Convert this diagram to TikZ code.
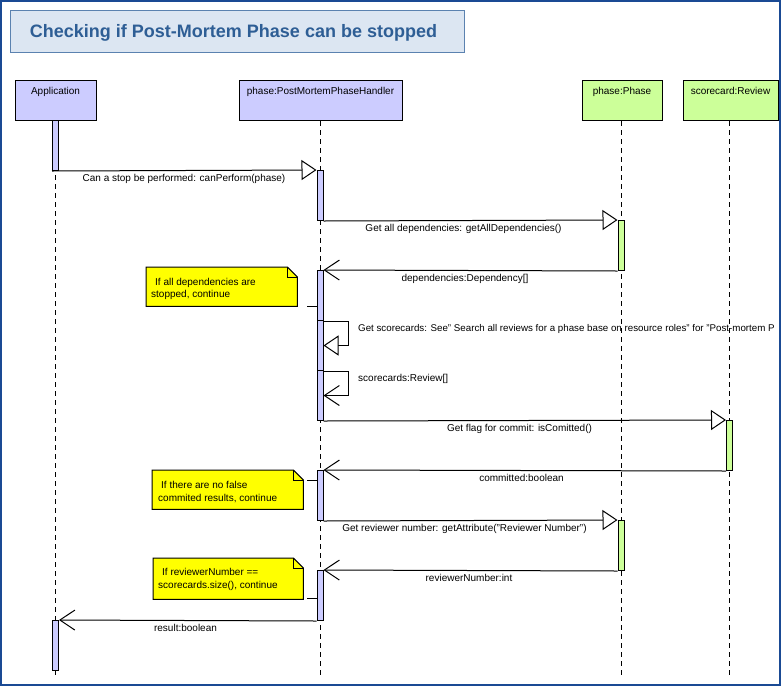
\documentclass[tikz,border=0pt]{standalone}
\usepackage{fontspec}
\setmainfont{Liberation Sans}
\usetikzlibrary{arrows.meta}
\definecolor{lil}{HTML}{CCCCFF}
\definecolor{grn}{HTML}{CCFF99}
\definecolor{framec}{HTML}{1A4A94}
\definecolor{ttlfill}{HTML}{DCE6F2}
\definecolor{ttlline}{HTML}{5B82B0}
\definecolor{ttltext}{HTML}{2E5E95}
\definecolor{notey}{HTML}{FFFF00}
\begin{document}
\begin{tikzpicture}[x=1pt,y=-1pt,
  head/.style={draw=black, line width=1pt, inner sep=0pt, anchor=north west, minimum height=40pt},
  headtxt/.style={font=\fontsize{10}{12}\selectfont, anchor=base, inner sep=0pt},
  bar/.style={draw=black, line width=1pt, minimum width=6pt, minimum height=50pt, inner sep=0pt, anchor=north},
  life/.style={draw=black, line width=1pt, dash pattern=on 5pt off 4pt},
  call/.style={draw=black, line width=1pt, -{Triangle[length=15pt,width=20pt,fill=white]}},
  ret/.style={draw=black, line width=1pt, -{Straight Barb[length=15pt,width=20pt]}},
  lbl/.style={font=\fontsize{10}{12}\selectfont, anchor=base, inner sep=0pt},
  notearea/.style={inner sep=0pt, anchor=north west},
  notebox/.style={fill=notey, draw=black, line width=1pt},
  notetxt/.style={font=\fontsize{10}{12}\selectfont, anchor=base west, inner sep=0pt},
  conn/.style={draw=black, line width=1pt}
]
\useasboundingbox (0,0) rectangle (781,686);
\fill[white] (0,0) rectangle (781,686);

% title
\node[draw=ttlline, fill=ttlfill, line width=1pt, minimum width=454pt, minimum height=42pt, inner sep=0pt, anchor=north west] (title) at (10,10) {};
\node[font=\fontsize{18}{20}\selectfont\bfseries, text=ttltext, anchor=base, inner sep=0pt] (titletxt) at (233.5,37) {Checking if Post-Mortem Phase can be stopped};

% heads
\node[head, fill=lil, minimum width=81pt] (app) at (15,80) {};
\node[head, fill=lil, minimum width=163pt] (hnd) at (239,80) {};
\node[head, fill=grn, minimum width=80pt] (ph) at (582,80) {};
\node[head, fill=grn, minimum width=95pt] (rv) at (683,80) {};
\node[headtxt] (appt) at (55.5,94) {Application};
\node[headtxt] (hndt) at (320.5,94) {phase:PostMortemPhaseHandler};
\node[headtxt] (pht) at (622,94) {phase:Phase};
\node[headtxt] (rvt) at (730.5,94) {scorecard:Review};

% lifelines
\coordinate (appE) at (55.5,675);
\coordinate (hndE) at (320,675);
\coordinate (phE) at (621,675);
\coordinate (rvE) at (729.5,675);
\draw[life] (app.south -| appE) -- (appE);
\draw[life] (hnd.south -| hndE) -- (hndE);
\draw[life] (ph.south -| phE) -- (phE);
\draw[life] (rv.south -| rvE) -- (rvE);

% activation bars
\node[bar, fill=lil] (appA) at (55.5,120) {};
\node[bar, fill=lil] (hA1) at (320,170) {};
\node[bar, fill=grn] (phA1) at (621,220) {};
\node[bar, fill=lil] (hA2) at (320,270) {};
\node[bar, fill=lil] (hA3) at (320,320) {};
\node[bar, fill=lil] (hA4) at (320,370) {};
\node[bar, fill=grn] (rvA) at (729.5,420) {};
\node[bar, fill=lil] (hA5) at (320,470) {};
\node[bar, fill=grn] (phA2) at (621,520) {};
\node[bar, fill=lil] (hA6) at (320,570) {};
\node[bar, fill=lil] (appB) at (55.5,620) {};

% messages
\draw[call] (appA.south west) -- (hA1.north west);
\draw[call] (hA1.south east) -- (phA1.north west);
\draw[ret] (phA1.south west) -- (hA2.north east);
\draw[call] (hA2.south east) -- ([xshift=25pt]hA2.south east) |- (hA3.east);
\draw[ret] (hA3.south east) -- ([xshift=25pt]hA3.south east) |- (hA4.east);
\draw[call] (hA4.south east) -- (rvA.north west);
\draw[ret] (rvA.south west) -- (hA5.north east);
\draw[call] (hA5.south east) -- (phA2.north west);
\draw[ret] (phA2.south west) -- (hA6.north east);
\draw[ret] (hA6.south west) -- (appB.north east);

% labels
\node[lbl] (l1) at (184,181) {Can a stop be performed: canPerform(phase)};
\node[lbl] (l2) at (463.5,231) {Get all dependencies: getAllDependencies()};
\node[lbl] (l3) at (465,281) {dependencies:Dependency[]};
\node[lbl, anchor=base west, font=\fontsize{9.75}{12}\selectfont] (l4) at (358,331) {Get scorecards: See" Search all reviews for a phase base on resource roles" for "Post-mortem P};
\node[lbl, anchor=base west] (l5) at (358,381) {scorecards:Review[]};
\node[lbl] (l6) at (519.5,431) {Get flag for commit: isComitted()};
\node[lbl] (l7) at (521.5,481) {committed:boolean};
\node[lbl] (l8) at (464.5,531) {Get reviewer number: getAttribute("Reviewer Number")};
\node[lbl] (l9) at (469,581) {reviewerNumber:int};
\node[lbl] (l10) at (185.5,631) {result:boolean};

% notes
\node[notearea, minimum width=151pt, minimum height=39pt] (n1) at (146,267) {};
\node[notearea, minimum width=151pt, minimum height=39pt] (n2) at (152,470) {};
\node[notearea, minimum width=150pt, minimum height=41pt] (n3) at (153,558) {};
\foreach \n in {n1,n2,n3}{
  \draw[notebox] (\n.north west) -- ([xshift=-10pt]\n.north east) -- ([yshift=-10pt]\n.north east) -- (\n.south east) -- (\n.south west) -- cycle;
  \draw[line width=1pt] ([xshift=-10pt]\n.north east) -- ([xshift=-10pt,yshift=-10pt]\n.north east) -- ([yshift=-10pt]\n.north east);
}
\node[notetxt] (n1a) at (155,285.5) {If all dependencies are};
\node[notetxt] (n1b) at (151,297.5) {stopped, continue};
\node[notetxt] (n2a) at (161,488) {If there are no false};
\node[notetxt] (n2b) at (158,501) {commited results, continue};
\node[notetxt] (n3a) at (162,575) {If reviewerNumber ==};
\node[notetxt] (n3b) at (158,588) {scorecards.size(), continue};

% note connectors
\coordinate (c1) at (307,306);
\coordinate (c2) at (307,480);
\coordinate (c3) at (307,598);
\draw[conn] (c1) -- (c1 -| hA2.west);
\draw[conn] (c2) -- (c2 -| hA5.west);
\draw[conn] (c3) -- (c3 -| hA6.west);

% frame
\draw[framec, line width=2pt] (1,1) rectangle (780,685);
\end{tikzpicture}
\end{document}
